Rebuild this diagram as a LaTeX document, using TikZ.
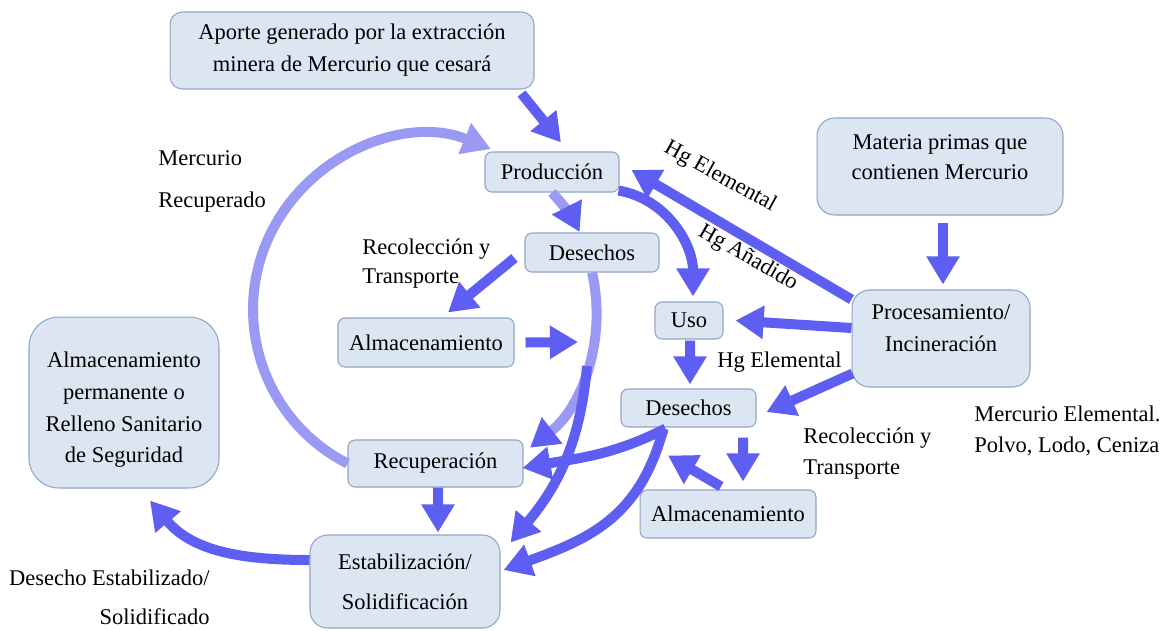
\documentclass[tikz,border=0pt]{standalone}
\usepackage{fontspec}
\setmainfont{Liberation Serif}
\usetikzlibrary{arrows.meta,calc}

\definecolor{boxfill}{HTML}{DCE6F2}
\definecolor{boxline}{HTML}{8FA6C4}
\definecolor{flow}{HTML}{5E5EF2}
\definecolor{flowlight}{HTML}{9A9AF4}

\tikzset{
  stage/.style={draw=boxline,fill=boxfill,line width=0.6pt,rounded corners=4pt,align=center,inner sep=2pt,font=\fontsize{12.8}{18.2}\selectfont},
  bigstage/.style={stage,rounded corners=10pt},
  note/.style={inner sep=0pt,align=left,font=\fontsize{12.8}{18.2}\selectfont},
  flowarrow/.style={draw=flow,line width=5.7pt,-{Triangle[length=16pt,width=18pt]}},
  lightarrow/.style={draw=flowlight,line width=5.7pt,-{Triangle[length=16pt,width=18pt,color=flowlight]}},
  mixedarrow/.style={draw=flowlight,line width=5.7pt,-{Triangle[length=16pt,width=18pt,color=flow]}},
}

\begin{document}
\begin{tikzpicture}[x=0.02cm,y=0.02cm]
  \useasboundingbox (0,0) rectangle (1165,-630);

  % boxes
  \node[stage,rounded corners=7pt,minimum width=7.28cm,minimum height=1.54cm] (aporte) at (352,-50.5) {Aporte generado por la extracción\\minera de Mercurio que cesará};
  \node[stage,minimum width=2.68cm,minimum height=0.80cm] (prod) at (552,-172) {Producción};
  \node[stage,minimum width=2.68cm,minimum height=0.78cm] (des1) at (592,-252.5) {Desechos};
  \node[stage,minimum width=3.52cm,minimum height=0.98cm] (alm1) at (426,-342.5) {Almacenamiento};
  \node[stage,minimum width=1.36cm,minimum height=0.74cm] (uso) at (689,-320.5) {Uso};
  \node[bigstage,minimum width=4.92cm,minimum height=1.94cm] (materia) at (940,-166.5) {Materia primas que\\[-1pt]contienen Mercurio\rule[-11pt]{0pt}{0pt}};
  \node[bigstage,minimum width=3.56cm,minimum height=1.94cm] (proc) at (941,-338.5) {Procesamiento/\\Incineración\rule[-12pt]{0pt}{0pt}};
  \node[bigstage,rounded corners=17pt,minimum width=3.80cm,minimum height=3.42cm] (perm) at (124,-402.5) {\rule{0pt}{17pt}Almacenamiento\\permanente o\\Relleno Sanitario\\de Seguridad};
  \node[stage,minimum width=3.50cm,minimum height=0.94cm] (rec) at (435.5,-463.5) {Recuperación};
  \node[bigstage,minimum width=3.80cm,minimum height=1.86cm] (estab) at (405,-581.5) {Estabilización/\\[4.6pt]Solidificación};
  \node[stage,minimum width=2.70cm,minimum height=0.76cm] (des2) at (688.5,-408) {Desechos};
  \node[stage,minimum width=3.52cm,minimum height=0.96cm] (alm2) at (728,-514) {Almacenamiento};

  % free labels
  \node[note,anchor=west] (merc rec) at (158,-181) {Mercurio\\[5.7pt]Recuperado};
  \node[note,anchor=west] (rt up) at (362,-264) {Recolección y\\[-1.7pt]Transporte};
  \node[note,rotate=-29] (hg el up) at (720,-177) {Hg Elemental};
  \node[note,rotate=-30] (hg an) at (748,-258) {Hg Añadido};
  \node[note,anchor=west] (hg el low) at (717,-362) {Hg Elemental};
  \node[note,anchor=west] (rt low) at (803,-454) {Recolección y\\[-0.5pt]Transporte};
  \node[note,anchor=west] (merc el) at (974,-430.5) {Mercurio Elemental.\\[-0.6pt]Polvo, Lodo, Ceniza};
  \node[note,anchor=east,align=right] (des est) at (210,-597.5) {Desecho Estabilizado/\\[3.8pt]Solidificado};

  % recovery loop
  \draw[lightarrow] (rec.west) arc[start angle=243,end angle=68,radius=3.46cm];
  \draw[mixedarrow] (prod.south) arc[start angle=43,end angle=27,radius=3.46cm];
  \draw[mixedarrow] (des1.south) arc[start angle=13,end angle=-52,radius=3.46cm];
  \coordinate (split) at (587,-366);
  \coordinate (alm1 end) at (578,-342);

  % flows
  \draw[flowarrow] ($(aporte.south east)+(-13,-4)$) -- ($(prod.north)+(9,9)$);
  \draw[flowarrow] ($(des1.west)+(-10,-5.5)$) -- ($(alm1.north)+(22,5)$);
  \draw[flowarrow] ($(alm1.east)+(11,0)$) -- (alm1 end);
  \draw[flowarrow] (split) to[out=-95,in=50] ($(estab.north east)+(10,-8)$);
  \draw[flowarrow] ($(prod.south east)+(-1,2)$) to[out=-10,in=90] ($(uso.north)+(4,5)$);
  \draw[flowarrow] ($(proc.north west)+(0,-10)$) -- ($(prod.east)+(12,2)$);
  \draw[flowarrow] ($(proc.west)+(0,10.5)$) -- ($(uso.east)+(12,0)$);
  \draw[flowarrow] ($(materia.south)+(3,-7)$) -- ($(proc.north)+(2,5)$);
  \draw[flowarrow] ($(uso.south)+(1,-1)$) -- ($(des2.north)+(1.5,4)$);
  \draw[flowarrow] ($(proc.south west)+(1,14)$) -- ($(des2.east)+(10,-4)$);
  \draw[flowarrow] ($(des2.south)+(54.5,-10)$) -- ($(alm2.north)+(15,8)$);
  \draw[flowarrow] ($(alm2.north)+(-7,3)$) -- ($(des2.south)+(-20.5,-28)$);
  \draw[flowarrow] ($(des2.south)+(-23,-1)$) to[out=207,in=10] ($(rec.east)+(-1,-4.5)$);
  \draw[flowarrow] ($(des2.south)+(-25,-1)$) to[out=-105,in=20,looseness=1.1] ($(estab.east)+(3,11.5)$);
  \draw[flowarrow] ($(rec.south)+(2.5,0)$) -- ($(estab.north)+(33,2)$);
  \draw[flowarrow] ($(estab.west)+(0,21.5)$) to[out=180,in=-50] ($(perm.south)+(26,-12)$);
\end{tikzpicture}
\end{document}
